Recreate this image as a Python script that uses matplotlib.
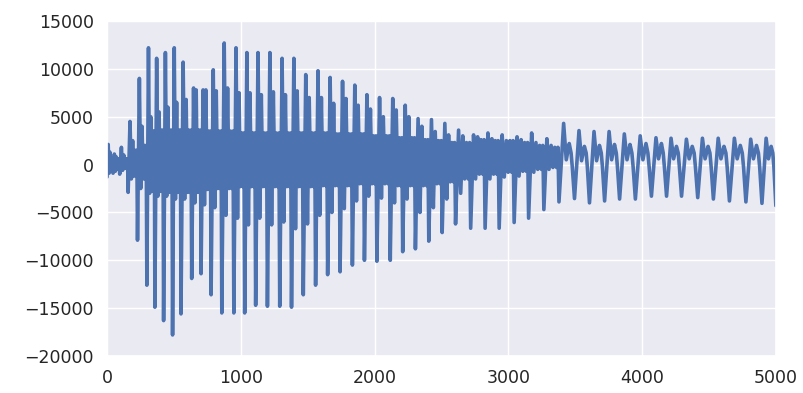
"""
Forme d'onde (échantillons 0 à 5000)
"""

import numpy as np
import matplotlib
matplotlib.use("Agg")
import matplotlib.pyplot as plt
import seaborn as sns

# Valeurs, un cycle par entrée :
# position du creux principal, creux, pic principal, creux secondaire,
# pic secondaire, haut et bas de la bande entre les pics
dip_x = [0, 45, 95, 158, 228, 298, 358, 423, 490, 553, 633, 703, 778, 858,
         948, 1029, 1111, 1199, 1291, 1379, 1467, 1559, 1649, 1742, 1834,
         1924, 2017, 2117, 2210, 2305, 2405, 2505, 2605, 2718, 2826, 2931,
         3043, 3151, 3265, 3378, 3494, 3606, 3719, 3831, 3949, 4069, 4182,
         4294, 4415, 4532, 4652, 4775, 4895, 4999]
dip_y = [-1300, -900, -1000,
         -2900, -7900, -12600, -14900, -16300, -17800, -15600, -11900,
         -11400, -13600, -15500, -15500, -15500, -14700, -14800, -14800,
         -14900, -13600, -12600, -11500, -11200, -10500, -10000, -10100,
         -10000, -9100, -8800, -8000, -7100, -6200,
         -6650, -6650, -6650, -6050, -5600, -4700,
         -3900, -3550, -4000, -3800, -3600, -3600, -3300, -3300, -3300,
         -3450, -3600, -3800, -3900, -4050,
         -4300]
peak_y = [2100, 1100, 1800,
          4500, 9000, 12200, 11100, 11700, 12200, 10700, 8000,
          7800, 9900, 12700, 12200, 11700, 11700, 11700, 11100,
          11100, 9400, 9800, 9100, 8700, 8300, 7300, 7000,
          6900, 6200, 4800, 4700, 4300, 3600,
          3100, 3300, 3100, 2900, 3300, 2700,
          4300, 3550, 3450, 3450, 3200, 3000, 2800, 2750, 2650,
          2750, 2750, 2750, 2650, 2750,
          0]
dip2_y = [-900, -700, -600,
          -1500, -2500, -3000, -3300, -3300, -3600, -3600, -4000,
          -4200, -4500, -5300, -5600, -6300, -5600, -6300, -6000,
          -6700, -6200, -5300, -5000, -4600, -3800, -3300, -3500,
          -4000, -3600, -5000, -4500, -3600, -3000,
          -1500, -1500, -1300, -1200, -800, -500,
          500, 400, 400, 500, 500, 500, 600, 600, 600,
          600, 600, 600, 600, 600,
          0]
peak2_y = [1300, 800, 1000,
           2500, 4000, 5000, 5500, 6000, 6500, 6800, 7800,
           7800, 7700, 8000, 7500, 7500, 7300, 7600, 7300,
           7700, 7000, 7000, 6400, 6900, 6200, 5800, 5000,
           5700, 5000, 4000, 3450, 3100, 3000,
           2900, 2700, 2500, 2600, 2300, 2000,
           2200, 1900, 2000, 2100, 2100, 2200, 2200, 1900, 1900,
           1900, 1900, 2000, 2000, 1900,
           0]
band_hi = [700, 600, 600,
           1500, 2000, 3500, 3600, 3600, 3600, 3600, 3600,
           3500, 3500, 3500, 3300, 3300, 3300, 3300, 3300,
           3300, 3300, 3300, 3200, 3200, 3200, 3000, 3000,
           2800, 2800, 2600, 2500, 2300, 2300,
           2600, 2500, 2500, 2300, 2000, 1800,
           1200, 1200, 1200, 1200, 1200, 1200, 1200, 1200, 1200,
           1200, 1200, 1200, 1200, 1200,
           0]
band_lo = [-600, -500, -400,
           -1200, -1500, -2800, -2800, -2900, -2900, -2900, -2900,
           -2600, -2500, -2500, -2300, -2300, -2300, -2300, -2300,
           -2300, -2300, -2200, -2200, -2200, -2000, -2000, -2000,
           -2200, -2200, -2200, -2000, -1800, -1500,
           -1000, -1000, -800, -700, -500, -300,
           -300, -300, -300, -300, -300, -300, -300, -300, -300,
           -300, -300, -300, -300, -300,
           0]

# Ordre des sommets dans un cycle (fraction de la période)
dense_frac = [0.0, 0.2, 0.34, 0.48, 0.6, 0.72, 0.84, 0.93]
open_frac = [0.0, 0.3, 0.47, 0.66, 0.78, 0.86]
late_start = 3378  # à partir d'ici, cycles sans bande pleine

xs, ys = [], []
for i in range(len(dip_x) - 1):
    t0 = dip_x[i]
    per = dip_x[i + 1] - t0
    if t0 < late_start:
        fr = dense_frac
        vals = [dip_y[i], peak_y[i], dip2_y[i], peak2_y[i],
                band_lo[i], band_hi[i], band_lo[i], band_hi[i]]
    else:
        fr = open_frac
        vals = [dip_y[i], peak_y[i], dip2_y[i], peak2_y[i],
                band_hi[i], band_lo[i]]
    for f, v in zip(fr, vals):
        xs.append(t0 + f * per)
        ys.append(v)
xs.append(dip_x[-1])
ys.append(dip_y[-1])

sns.set()
fig = plt.figure(figsize=(8.04, 3.93), dpi=100)
ax = fig.add_axes([107 / 804, 37 / 393, 669 / 804, 335 / 393])
ax.plot(np.array(xs), np.array(ys), color="#4C72B0", lw=2.6)
ax.set_xlim(0, 5000)
ax.set_ylim(-20000, 15000)
ax.set_xticks(range(0, 5001, 1000))
ax.set_yticks(range(-20000, 15001, 5000))
ax.tick_params(labelsize=12.5)

fig.savefig("out.png", dpi=100)
